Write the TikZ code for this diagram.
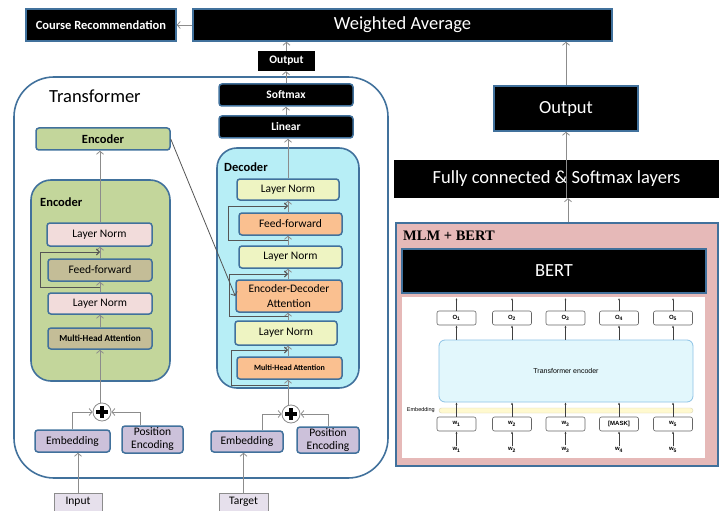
\documentclass[tikz,border=0pt]{standalone}
\usepackage{fontspec}
\setmainfont{Carlito}
\newfontfamily\timesf{Liberation Serif}
\newfontfamily\arialf{Liberation Sans}
\usetikzlibrary{arrows.meta}
\definecolor{bluebd}{HTML}{41719C}
\definecolor{arrgray}{HTML}{8C8C8C}
\definecolor{loopgray}{HTML}{555555}
\definecolor{encgreen}{HTML}{C3D69B}
\definecolor{lnpink}{HTML}{F2DCDB}
\definecolor{tan}{HTML}{C4BD97}
\definecolor{deccyan}{HTML}{B7EEF6}
\definecolor{lnyel}{HTML}{EEF4C2}
\definecolor{orng}{HTML}{FAC090}
\definecolor{lav}{HTML}{CCC1DA}
\definecolor{lavlt}{HTML}{E6E0EC}
\definecolor{mlmpink}{HTML}{E6B9B8}
\definecolor{tecyan}{HTML}{E2F7FC}
\definecolor{tebd}{HTML}{8DC3E6}
\definecolor{embbar}{HTML}{FFF9CF}
\newcommand\myL{\fontsize{18.5}{22}\selectfont}
\newcommand\myB{\bfseries\fontsize{12.5}{14}\selectfont}
\newcommand\myN{\fontsize{11.5}{13.5}\selectfont}
\begin{document}
\begin{tikzpicture}[x=1pt,y=-1pt,
  arr/.style={draw=arrgray, line width=0.8pt, -{Straight Barb[length=3pt,width=7pt]}},
  arrdk/.style={draw=loopgray, line width=0.8pt, -{Straight Barb[length=3pt,width=7pt]}},
  loopl/.style={draw=loopgray, line width=0.9pt, -{Straight Barb[length=3pt,width=6pt]}},
  bx/.style={draw=bluebd, line width=1.5pt, rounded corners=3pt, inner sep=0pt, align=center},
  blk/.style={bx, fill=black, text=white},
  cont/.style={draw=bluebd, line width=1.6pt, rounded corners=20pt},
  smb/.style={draw=gray!80!black, line width=0.6pt, rounded corners=2pt, fill=white, minimum width=39pt, minimum height=14pt, inner sep=0pt, font=\arialf\bfseries\fontsize{6}{7}\selectfont},
  barr/.style={draw=black!75, line width=0.5pt, -{Latex[length=2.2pt,width=2pt]}},
]
\useasboundingbox (0,0) rectangle (724,511);
% ---------- top row
\node[blk, rounded corners=0pt, minimum width=150pt, minimum height=32pt, font=\myB] (cr) at (101,25) {Course Recommendation};
\node[blk, rounded corners=0pt, minimum width=419pt, minimum height=32pt, font=\myL] (wa) at (402.5,25) {Weighted Average};
\node[fill=black, text=white, minimum width=57pt, minimum height=20pt, inner sep=0pt, font=\bfseries\fontsize{11.5}{13}\selectfont] (out1) at (286.5,61) {Output};
% ---------- transformer container
\draw[cont, rounded corners=40pt] (14,77) rectangle (388,478);
\node[anchor=west, font=\myL, inner sep=0pt] (ttl) at (49,96) {Transformer};
\node[blk, minimum width=134pt, minimum height=22pt, font=\bfseries\fontsize{11.5}{13}\selectfont] (sm) at (286,95) {Softmax};
\node[blk, minimum width=134pt, minimum height=22pt, font=\bfseries\fontsize{11.5}{13}\selectfont] (lin) at (286,127) {Linear};
\node[bx, fill=encgreen, minimum width=134pt, minimum height=22pt, font=\myB] (encTop) at (103,139) {Encoder};
% ---------- encoder block
\draw[cont, fill=encgreen] (31,180) rectangle (170,381);
\node[anchor=west, font=\myB, inner sep=0pt] (encL) at (40,202) {Encoder};
\node[bx, fill=lnpink, minimum width=105pt, minimum height=23pt, font=\myN] (eLN1) at (99.5,234.5) {Layer Norm};
\node[bx, fill=tan, minimum width=104pt, minimum height=22pt, font=\myN] (eFF) at (100,270) {Feed-forward};
\node[bx, fill=lnpink, minimum width=104pt, minimum height=21pt, font=\myN] (eLN2) at (100,303.5) {Layer Norm};
\node[bx, fill=tan, minimum width=104pt, minimum height=21pt, font=\bfseries\fontsize{9.2}{11}\selectfont] (eMHA) at (100,338.5) {Multi-Head Attention};
% ---------- decoder block
\draw[cont, fill=deccyan] (217,148) rectangle (359,388);
\node[anchor=west, font=\myB, inner sep=0pt] (decL) at (224,167) {Decoder};
\node[bx, fill=lnyel, minimum width=102pt, minimum height=21pt, font=\myN] (dLN1) at (288,189.5) {Layer Norm};
\node[bx, fill=orng, minimum width=103pt, minimum height=22pt, font=\myN] (dFF) at (290.5,224) {Feed-forward};
\node[bx, fill=lnyel, minimum width=103pt, minimum height=22pt, font=\myN] (dLN2) at (290.5,257) {Layer Norm};
\node[bx, fill=orng, minimum width=106pt, minimum height=32pt, font=\fontsize{11.5}{14.5}\selectfont] (dED) at (289,296) {Encoder-Decoder\\Attention};
\node[bx, fill=lnyel, minimum width=102pt, minimum height=24pt, font=\myN] (dLN3) at (286,333) {Layer Norm};
\node[bx, fill=orng, minimum width=105pt, minimum height=22pt, font=\bfseries\fontsize{8}{10}\selectfont] (dMHA) at (289.5,368) {Multi-Head Attention};
% ---------- inputs
\node[circle, draw=arrgray, fill=white, line width=0.8pt, minimum size=18pt, inner sep=0pt] (p1) at (102,412) {};
\node[circle, draw=arrgray, fill=white, line width=0.8pt, minimum size=18pt, inner sep=0pt] (p2) at (291,414) {};
\foreach \p in {p1,p2}{
  \draw[line width=3.2pt] ([xshift=-6pt]\p.center) -- ([xshift=6pt]\p.center);
  \draw[line width=3.2pt] ([yshift=-6pt]\p.center) -- ([yshift=6pt]\p.center);
}
\node[bx, fill=lav, minimum width=75pt, minimum height=22pt, font=\myN] (emb1) at (72.5,441) {Embedding};
\node[bx, fill=lav, minimum width=61pt, minimum height=27pt, font=\fontsize{11.5}{13}\selectfont] (pos1) at (152.5,439.5) {Position\\Encoding};
\node[bx, fill=lav, minimum width=72pt, minimum height=21pt, font=\myN] (emb2) at (247,441.5) {Embedding};
\node[bx, fill=lav, minimum width=62pt, minimum height=26pt, font=\fontsize{11.5}{13}\selectfont] (pos2) at (328,440) {Position\\Encoding};
\node[draw=arrgray, fill=lavlt, line width=0.8pt, minimum width=48pt, minimum height=18pt, inner sep=0pt, font=\myN] (inp) at (78,502) {Input};
\node[draw=arrgray, fill=lavlt, line width=0.8pt, minimum width=49pt, minimum height=18pt, inner sep=0pt, font=\myN] (tgt) at (243.5,502) {Target};
% ---------- right side
\node[blk, rounded corners=0pt, minimum width=144pt, minimum height=45pt, font=\myL] (out2) at (566,108.5) {Output};
\node[fill=black, text=white, minimum width=325pt, minimum height=38pt, inner sep=0pt, font=\myL] (fc) at (556.5,179) {Fully connected \& Softmax layers};
\node[draw=bluebd, fill=mlmpink, line width=1.8pt, minimum width=322pt, minimum height=243pt, inner sep=0pt] (mlm) at (557,344.5) {};
\node[anchor=west, inner sep=0pt, font=\timesf\bfseries\fontsize{14.5}{16}\selectfont] (mlmL) at (403,236) {MLM + BERT};
\node[blk, rounded corners=0pt, minimum width=304pt, minimum height=44pt, font=\myL] (bert) at (554,271) {BERT};
\node[fill=white, minimum width=303pt, minimum height=161pt, inner sep=0pt] (wht) at (553.5,377.5) {};
\node[draw=tebd, fill=tecyan, line width=0.8pt, rounded corners=6pt, minimum width=254pt, minimum height=62pt, inner sep=0pt, font=\arialf\fontsize{7}{8}\selectfont] (te) at (566,371) {Transformer encoder};
\node[draw=embbar!70!gray, fill=embbar, line width=0.4pt, rounded corners=2.5pt, minimum width=254pt, minimum height=5pt, inner sep=0pt] (eb) at (566,410.5) {};
\node[anchor=east, inner sep=0pt, font=\arialf\fontsize{5.5}{6}\selectfont] (ebL) at (435,410.5) {Embedding};
\foreach \i/\x/\w in {1/456.5/w\textsubscript{1},2/512/w\textsubscript{2},3/565.5/w\textsubscript{3},4/619/[MASK],5/673/w\textsubscript{5}}{
  \node[smb] (o\i) at (\x,318) {O\textsubscript{\i}};
  \node[smb] (w\i) at (\x,424) {\w};
  \node[inner sep=0pt, font=\arialf\bfseries\fontsize{6}{7}\selectfont] (t\i) at (\x,450) {w\textsubscript{\i}};
  \coordinate (ot\i) at (\x,298);
  \draw[barr] (o\i.north) -- (ot\i);
  \draw[barr] (o\i.south |- te.north) -- (o\i.south);
  \draw[barr] (w\i.north) -- (w\i.north |- te.south);
  \draw[barr] ([yshift=2pt]t\i.north) -- (w\i.south);
}
% ---------- connectors top
\draw[arr] (wa.west) -- (cr.east);
\draw[arr] (out1.north) -- (out1.north |- wa.south);
\draw[arr] (sm.north) -- (sm.north |- out1.south);
\draw[arr] (lin.north) -- (sm.south);
\draw[arr] (out2.north) -- (out2.north |- wa.south);
\draw[arr] (fc.south -| out2.south) -- (out2.south);
\draw[arr] (mlm.north -| 568,0) -- (fc.south -| 568,0);
% ---------- encoder connectors
\coordinate (ecl) at (100,0);
\draw[arr] (eLN1.north -| ecl) -- (encTop.south -| ecl);
\draw[arr] (eFF.north -| ecl) -- (eLN1.south -| ecl);
\draw[arr] (eLN2.north -| ecl) -- (eFF.south -| ecl);
\draw[arr] (eMHA.north -| ecl) -- (eLN2.south -| ecl);
\draw[arr] (p1.north -| ecl) -- (eMHA.south -| ecl);
\coordinate (eJb) at (100,287); \coordinate (eLa) at (40,287);
\coordinate (eLb) at (40,252); \coordinate (eJt) at (100,252);
\draw[loopl] (eJb) -- (eLa) -- (eLb) -- (eJt);
% ---------- decoder connectors
\coordinate (dcl) at (288,0);
\draw[arr] (dLN1.north -| dcl) -- (lin.south -| dcl);
\draw[arr] (dFF.north -| dcl) -- (dLN1.south -| dcl);
\draw[arr] (dLN2.north -| dcl) -- (dFF.south -| dcl);
\draw[arr] (dED.north -| dcl) -- (dLN2.south -| dcl);
\draw[arr] (dLN3.north -| dcl) -- (dED.south -| dcl);
\draw[arr] (dMHA.north -| dcl) -- (dLN3.south -| dcl);
\draw[arr] (p2.north -| dcl) -- (dMHA.south -| dcl);
\coordinate (d1b) at (288,240); \coordinate (d1a) at (228,240);
\coordinate (d1c) at (228,206); \coordinate (d1t) at (288,206);
\draw[loopl] (d1b) -- (d1a) -- (d1c) -- (d1t);
\coordinate (d2b) at (288,316); \coordinate (d2a) at (229,316);
\coordinate (d2c) at (229,274); \coordinate (d2t) at (288,274);
\draw[loopl] (d2b) -- (d2a) -- (d2c) -- (d2t);
\coordinate (d3b) at (288,385); \coordinate (d3a) at (231,385);
\coordinate (d3c) at (231,350); \coordinate (d3t) at (288,350);
\draw[loopl] (d3b) -- (d3a) -- (d3c) -- (d3t);
\draw[arrdk] (encTop.east) -- (dED.west);
% ---------- input connectors
\draw[arr] (emb1.north) |- (p1.west);
\draw[arr] ([xshift=-12.5pt]pos1.north) |- (p1.east);
\draw[arr] ([xshift=15pt]emb2.north) |- (p2.west);
\draw[arr] (pos2.north) |- (p2.east);
\draw[arr] (inp.north) -- (inp.north |- emb1.south);
\draw[arr] (tgt.north) -- (tgt.north |- emb2.south);
\end{tikzpicture}
\end{document}
